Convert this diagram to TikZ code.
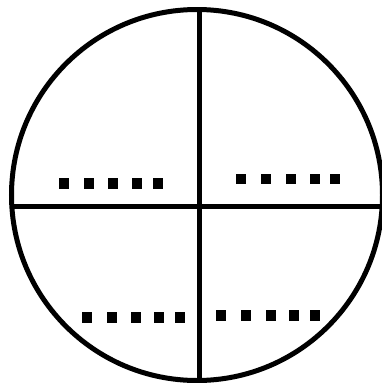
\documentclass[tikz,border=0pt]{standalone}
\begin{document}
\begin{tikzpicture}[x=1pt,y=-1pt,
  rim/.style={draw=black,line width=5pt},
  divider/.style={draw=black,line width=5pt},
  sq/.style={fill=black}]
\useasboundingbox (0,0) rectangle (382,383);
\coordinate (c) at (197,195);
\draw[rim] (c) circle[radius=185.5];
\coordinate (vt) at (199.5,9.5);
\coordinate (vb) at (199.5,380.5);
\coordinate (hl) at (11.8,206);
\coordinate (hr) at (382.2,206);
\draw[divider] (vt) -- (vb);
\draw[divider] (hl) -- (hr);
% upper left
\foreach \x in {64,88.5,113,136.5,157.5} \fill[sq] (\x-5,178) rectangle +(10,10.5);
% upper right
\foreach \x in {241,266,291,314.5,334.5} \fill[sq] (\x-5,173.5) rectangle +(10,10.5);
% lower left
\foreach \x in {87,112,136,159,179.5} \fill[sq] (\x-5,312) rectangle +(10,10.5);
% lower right
\foreach \x in {221,246,271,294,314.5} \fill[sq] (\x-5,310) rectangle +(10,10.5);
\end{tikzpicture}
\end{document}
